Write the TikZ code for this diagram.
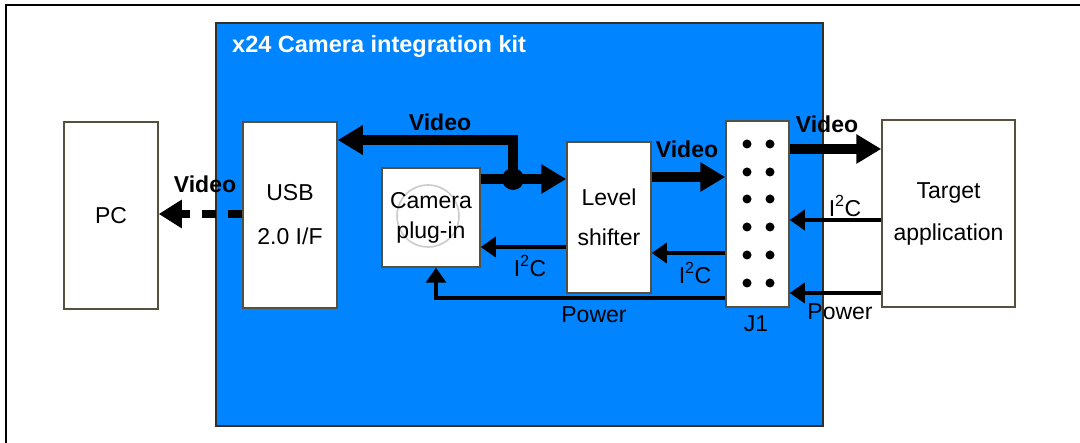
\documentclass[tikz,border=0pt]{standalone}
\usepackage{fontspec}
\setmainfont{Liberation Sans}
\usetikzlibrary{arrows.meta,calc}
\definecolor{kitblue}{RGB}{0,132,255}
\definecolor{edge}{RGB}{88,80,62}

\begin{document}
\begin{tikzpicture}[x=1pt,y=-1pt,
  txt/.style={font=\fontsize{23}{27}\selectfont},
  box/.style={txt,draw=edge,line width=1.5pt,fill=white,inner sep=0pt,align=center},
  video/.style={line width=10pt,-{Triangle[length=25pt,width=28pt]}},
  sig/.style={line width=3.5pt,-{Triangle[length=15pt,width=20pt]}},
  lbl/.style={txt,inner sep=0pt},
  vlbl/.style={font=\fontsize{23}{27}\selectfont\bfseries,inner sep=0pt},
  pin/.style={fill=black,circle,inner sep=0pt,minimum size=9pt}]

\useasboundingbox (0,0) rectangle (1080,443);

% page frame
\draw[line width=2.5pt] (6,443) -- (6,5) -- (1080,5);

% integration kit board
\node[draw=edge!60!black,fill=kitblue,line width=1.5pt,inner sep=0pt,
      minimum width=607pt,minimum height=403pt] (kit) at (519.5,224.5) {};
\node[vlbl,font=\fontsize{23.5}{27}\selectfont\bfseries,text=white,anchor=west] (title) at (232,46) {x24 Camera integration kit};

% blocks
\node[box,minimum width=94pt,minimum height=187pt] (pc) at (111,215.5) {PC};
\node[box,minimum width=94pt,minimum height=186pt] (usb) at (290,215) {USB\\[17pt]2.0 I/F};
\node[box,minimum width=98pt,minimum height=99pt] (cam) at (431,217.5) {};
\node[circle,draw=gray!40,line width=1.6pt,inner sep=0pt,minimum size=62pt] (ring) at (428,216) {};
\node[txt,align=center,inner sep=0pt] (camtxt) at (cam.center) {Camera\\[3pt]plug-in};
\node[box,minimum width=84pt,minimum height=151pt] (lvl) at (609,217.5) {Level\\[13pt]shifter};
\node[box,minimum width=63pt,minimum height=186pt] (j1) at (757.5,214) {};
\node[box,minimum width=133pt,minimum height=187pt] (tgt) at (948.5,213.5) {Target\\[15pt]application};
\node[lbl] (j1lbl) at (756,324) {J1};

% connector pins
\foreach \r [count=\i] in {144,172,199,227,255,283} {
  \node[pin] (pa\i) at (747,\r) {};
  \node[pin] (pb\i) at (770,\r) {};
}

% video paths
\node[circle,fill=black,inner sep=0pt,minimum size=22pt] (jct) at (513,179) {};
\coordinate (vtop) at (513,140);
\coordinate (vls) at (0,177);
\coordinate (vj1) at (0,149);
\coordinate (vpc) at (0,214);
\draw[video] (cam.east |- jct) -- (lvl.west |- jct);
\draw[video] (jct.center) -- (vtop) -- (usb.east |- vtop);
\draw[video] (lvl.east |- vls) -- (j1.west |- vls);
\draw[video] (j1.east |- vj1) -- (tgt.west |- vj1);
\draw[line width=8pt,dash pattern=on 14pt off 12pt,-{Triangle[length=23pt,width=27pt]}]
  (usb.west |- vpc) -- (pc.east |- vpc);

% I2C and power lines
\coordinate (ia) at (0,220);
\coordinate (ib) at (0,253);
\coordinate (ic) at (0,247);
\coordinate (pa) at (0,293);
\coordinate (pb) at (436,298);
\draw[sig] (tgt.west |- ia) -- (j1.east |- ia);
\draw[sig] (j1.west |- ib) -- (lvl.east |- ib);
\draw[sig] (lvl.west |- ic) -- (cam.east |- ic);
\draw[sig] (tgt.west |- pa) -- (j1.east |- pa);
\draw[sig] (j1.west |- pb) -- (pb) -- (pb |- cam.south);

% labels
\node[vlbl] (lv1) at (440,122) {Video};
\node[vlbl] (lv2) at (687,149) {Video};
\node[vlbl] (lv3) at (827,124) {Video};
\node[vlbl] (lv4) at (205,184) {Video};
\node[lbl] (li1) at (845,206) {I\textsuperscript{2}C};
\node[lbl] (li2) at (695,273) {I\textsuperscript{2}C};
\node[lbl] (li3) at (530,266) {I\textsuperscript{2}C};
\node[lbl] (lp1) at (594,315) {Power};
\node[lbl] (lp2) at (840,312) {Power};
\end{tikzpicture}
\end{document}
